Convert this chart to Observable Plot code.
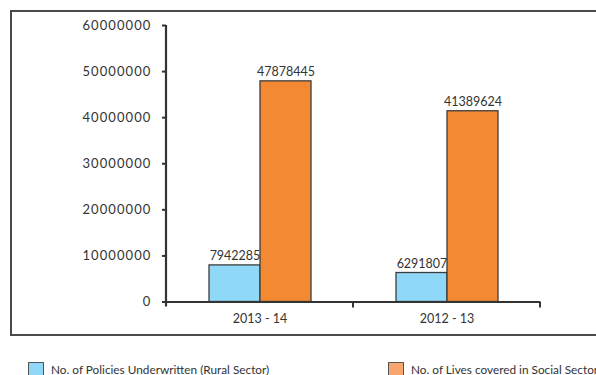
<!DOCTYPE html>
<html>
<head>
<meta charset="utf-8">
<script src="https://cdn.jsdelivr.net/npm/d3@7"></script>
<script src="https://cdn.jsdelivr.net/npm/@observablehq/plot@0.6"></script>
<style>
  html, body { margin: 0; padding: 0; background: #fff; overflow: hidden; }
  body { width: 596px; height: 375px; position: relative; font-family: Lato, "Open Sans", sans-serif; color: #333; }
  #box { position: absolute; left: 10px; top: 10px; width: 620px; height: 322px; border: 2px solid #4a4a4a; }
  #chart { position: absolute; left: 0; top: 0; }
  .legend { position: absolute; top: 362px; display: flex; align-items: center; font-size: 11.8px; color: #333; white-space: nowrap; }
  .legend .sw { width: 16px; height: 15px; border: 1.5px solid #555; box-sizing: border-box; margin-right: 7px; }
</style>
</head>
<body>
<div id="box"></div>
<div id="chart"></div>
<div class="legend" style="left:28px"><span class="sw" id="sw0"></span><span id="lg0"></span></div>
<div class="legend" style="left:388px"><span class="sw" id="sw1"></span><span id="lg1"></span></div>
<script>
// Financial years shown on the horizontal axis
const years = ["2013 - 14", "2012 - 13"];
// The two series compared in each year
const series = ["No. of Policies Underwritten (Rural Sector)", "No. of Lives covered in Social Sector"];
const policiesRural = [7942285, 6291807];
const livesSocial = [47878445, 41389624];
// Vertical axis ticks
const yTicks = [0, 10000000, 20000000, 30000000, 40000000, 50000000, 60000000];

const barColors = ["#8fd8f7", "#f38a33"];
const legendColors = ["#8fd8f7", "#f8a66e"];

const rows = years.flatMap((year, i) => [
  {year, series: series[0], value: policiesRural[i]},
  {year, series: series[1], value: livesSocial[i]}
]);

const chart = Plot.plot({
  width: 596,
  height: 340,
  marginLeft: 166,
  marginRight: 56,
  marginTop: 25,
  marginBottom: 38.5,
  style: {fontFamily: "Lato, 'Open Sans', sans-serif", color: "#333", background: "transparent", overflow: "visible"},
  fx: {domain: years, padding: 0, label: null},
  x: {domain: series, paddingInner: 0, paddingOuter: 0.8, axis: null},
  y: {domain: [0, 60000000], label: null},
  color: {domain: series, range: barColors},
  marks: [
    Plot.barY(rows, {fx: "year", x: "series", y: "value", fill: "series", stroke: "#3c3c3c", strokeWidth: 1.3}),
    Plot.text(rows, {fx: "year", x: "series", y: "value", text: d => String(d.value), lineAnchor: "bottom", dy: -5, fontSize: 12.5, fill: "#333"}),
    Plot.ruleY([0], {stroke: "#333", strokeWidth: 2.2}),
    Plot.axisY({ticks: yTicks, tickFormat: d => String(d), tickSize: 4, tickPadding: 11, stroke: "#333", strokeWidth: 2, fontSize: 13, label: null}),
    Plot.axisFx({anchor: "bottom", tickSize: 0, tickPadding: 12, fontSize: 12.5, label: null})
  ]
});
document.getElementById("chart").appendChild(chart);

// Axis decorations: vertical y-axis line and dividers at year band edges
const svg = d3.select(chart);
const fx = chart.scale("fx");
const y = chart.scale("y");
const y0 = y.apply(0);
const yTop = y.apply(yTicks[yTicks.length - 1]);
const edges = years.map(yr => fx.apply(yr)).concat([fx.apply(years[years.length - 1]) + fx.bandwidth]);
svg.append("line")
  .attr("x1", edges[0]).attr("x2", edges[0])
  .attr("y1", yTop).attr("y2", y0 + 5)
  .attr("stroke", "#333").attr("stroke-width", 2.2);
svg.selectAll("line.divider").data(edges.slice(1)).join("line")
  .attr("class", "divider")
  .attr("x1", d => d).attr("x2", d => d)
  .attr("y1", y0).attr("y2", y0 + 6)
  .attr("stroke", "#333").attr("stroke-width", 2);
svg.selectAll("g[aria-label='y-axis tick label'] text").attr("letter-spacing", "1.1px");

// Legend below the chart
series.forEach((s, i) => {
  document.getElementById("sw" + i).style.background = legendColors[i];
  document.getElementById("lg" + i).textContent = s;
});
</script>
</body>
</html>
